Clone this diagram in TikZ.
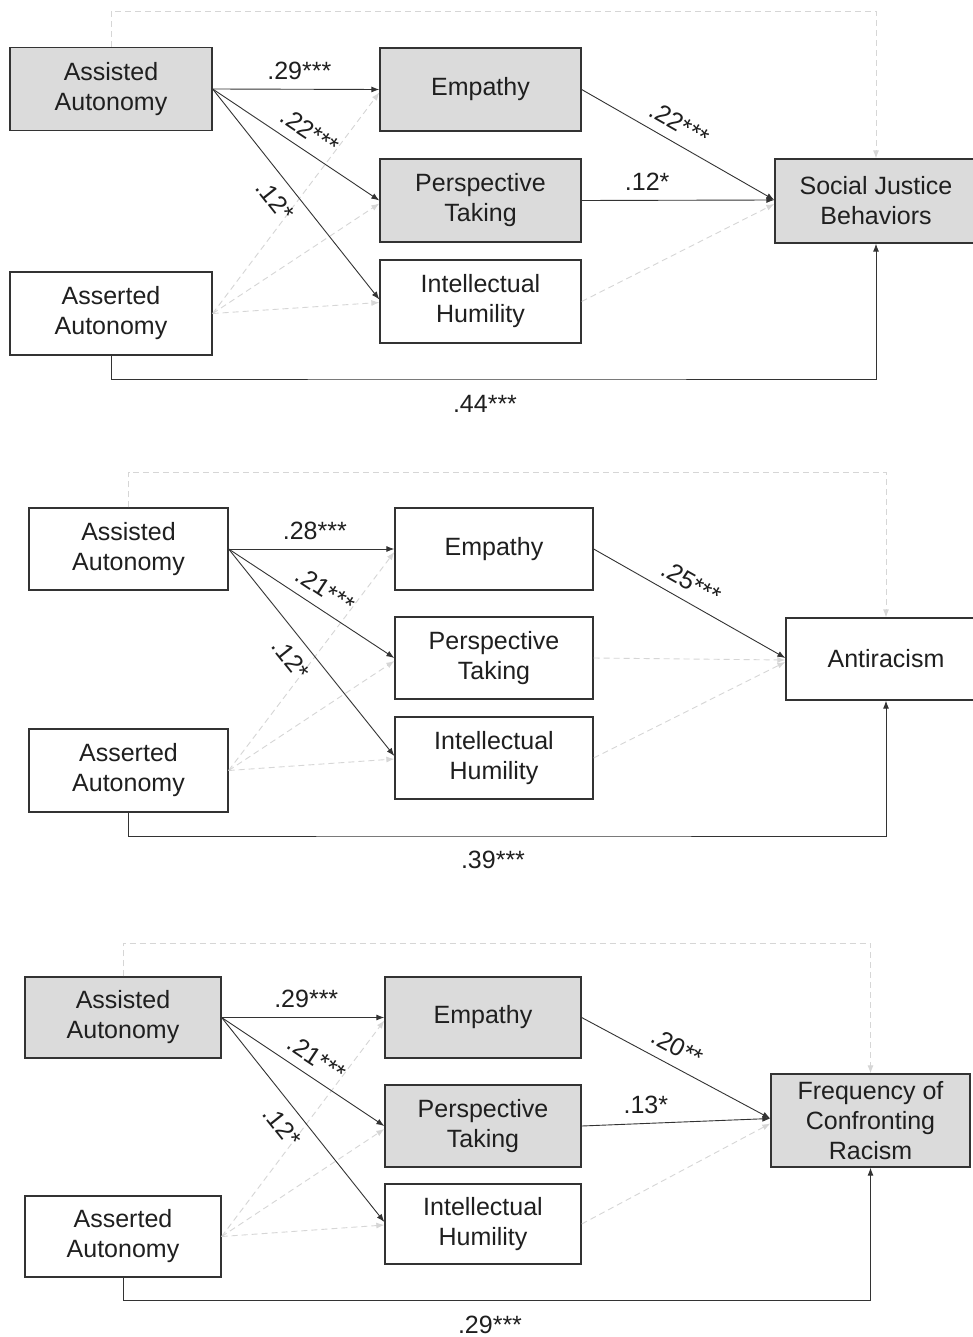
\documentclass[tikz,border=0pt]{standalone}
\usepackage{fontspec}
\setmainfont{Liberation Sans}
\usetikzlibrary{arrows.meta}
\newcommand\figfs{\fontsize{25pt}{30pt}\selectfont}
\begin{document}
\begin{tikzpicture}[x=1pt,y=-1pt,
  box/.style={draw=black!80, line width=1.3pt, inner sep=0pt, align=center, text=black!88, font=\figfs},
  gbox/.style={box, fill=black!14},
  sig/.style={draw=black!80, line width=0.9pt, -{Latex[length=8pt,width=6pt]}},
  ns/.style={draw=black!16, line width=0.9pt, dash pattern=on 6pt off 4pt, -{Latex[length=8pt,width=6pt]}},
  lab/.style={font=\figfs, text=black!88, inner sep=1pt},
  hlab/.style={lab, above=8pt},
  slab/.style={lab, sloped, above=9pt},
  blab/.style={lab, sloped, below=10pt},
]
\useasboundingbox[fill=white] (0,0) rectangle (972,1337);

% ---------------- Panel 1 ----------------
\node[gbox, minimum width=202pt, minimum height=83pt] (aa1) at (111,89) {Assisted\\Autonomy};
\node[box, minimum width=202pt, minimum height=83pt] (as1) at (111,313.5) {Asserted\\Autonomy};
\node[gbox, minimum width=201pt, minimum height=83pt] (em1) at (480.5,89.5) {Empathy};
\node[gbox, minimum width=201pt, minimum height=83pt] (pt1) at (480.5,200.5) {Perspective\\Taking};
\node[box, minimum width=201pt, minimum height=83pt] (ih1) at (480.5,301.5) {Intellectual\\Humility};
\node[gbox, minimum width=202pt, minimum height=84pt] (sj1) at (876,201) {Social Justice\\Behaviors};
\coordinate (t1) at (500,11);
\coordinate (b1) at (500,379);

\draw[ns] (aa1.north) |- (t1) -| (sj1.north);
\draw[ns] (as1.east) -- ([yshift=-3pt]em1.west);
\draw[ns] (as1.east) -- ([yshift=-3pt]pt1.west);
\draw[ns] (as1.east) -- ([yshift=-1pt]ih1.west);
\draw[ns] (ih1.east) -- ([yshift=-3pt]sj1.west);

\draw[sig] (aa1.east) -- node[hlab, pos=0.52]{.29***} (em1.west);
\draw[sig] (aa1.east) -- node[slab, pos=0.52]{.22***} (pt1.west);
\draw[sig] (aa1.east) -- node[blab, pos=0.47]{.12*} ([yshift=2pt]ih1.west);
\draw[sig] (em1.east) -- node[slab, pos=0.46]{.22***} ([yshift=1pt]sj1.west);
\draw[sig] (pt1.east) -- node[hlab, pos=0.34]{.12*} ([yshift=1pt]sj1.west);
\draw[sig] (as1.south) |- (b1) -| (sj1.south);
\node[lab] (l44) at (485,404) {.44***};

% ---------------- Panel 2 ----------------
\node[box, minimum width=199pt, minimum height=82pt] (aa2) at (128.5,549) {Assisted\\Autonomy};
\node[box, minimum width=199pt, minimum height=83pt] (as2) at (128.5,770.5) {Asserted\\Autonomy};
\node[box, minimum width=198pt, minimum height=82pt] (em2) at (494,549) {Empathy};
\node[box, minimum width=198pt, minimum height=82pt] (pt2) at (494,658) {Perspective\\Taking};
\node[box, minimum width=198pt, minimum height=82pt] (ih2) at (494,758) {Intellectual\\Humility};
\node[box, minimum width=200pt, minimum height=82pt] (ar2) at (886,659) {Antiracism};
\coordinate (t2) at (500,472);
\coordinate (b2) at (500,836);

\draw[ns] (aa2.north) |- (t2) -| (ar2.north);
\draw[ns] (as2.east) -- ([yshift=-3pt]em2.west);
\draw[ns] (as2.east) -- ([yshift=-3pt]pt2.west);
\draw[ns] (as2.east) -- ([yshift=-1pt]ih2.west);
\draw[ns] (pt2.east) -- ([yshift=-1pt]ar2.west);
\draw[ns] (ih2.east) -- ([yshift=-3pt]ar2.west);

\draw[sig] (aa2.east) -- node[hlab, pos=0.52]{.28***} (em2.west);
\draw[sig] (aa2.east) -- node[slab, pos=0.52]{.21***} (pt2.west);
\draw[sig] (aa2.east) -- node[blab, pos=0.47]{.12*} ([yshift=2pt]ih2.west);
\draw[sig] (em2.east) -- node[slab, pos=0.46]{.25***} ([yshift=1pt]ar2.west);
\draw[sig] (as2.south) |- (b2) -| (ar2.south);
\node[lab] (l39) at (493,860) {.39***};

% ---------------- Panel 3 ----------------
\node[gbox, minimum width=196pt, minimum height=81pt] (aa3) at (123,1017.5) {Assisted\\Autonomy};
\node[box, minimum width=196pt, minimum height=81pt] (as3) at (123,1236.5) {Asserted\\Autonomy};
\node[gbox, minimum width=196pt, minimum height=81pt] (em3) at (483,1017.5) {Empathy};
\node[gbox, minimum width=196pt, minimum height=82pt] (pt3) at (483,1126) {Perspective\\Taking};
\node[box, minimum width=196pt, minimum height=80pt] (ih3) at (483,1224) {Intellectual\\Humility};
\node[gbox, minimum width=199pt, minimum height=93pt] (fr3) at (870.5,1120.5) {Frequency of\\Confronting\\Racism};
\coordinate (t3) at (500,943);
\coordinate (b3) at (500,1300);

\draw[ns] (aa3.north) |- (t3) -| (fr3.north);
\draw[ns] (as3.east) -- ([yshift=-3pt]em3.west);
\draw[ns] (as3.east) -- ([yshift=-3pt]pt3.west);
\draw[ns] (as3.east) -- ([yshift=-1pt]ih3.west);
\draw[ns] (ih3.east) -- ([yshift=-3pt]fr3.west);

\draw[sig] (aa3.east) -- node[hlab, pos=0.52]{.29***} (em3.west);
\draw[sig] (aa3.east) -- node[slab, pos=0.52]{.21***} (pt3.west);
\draw[sig] (aa3.east) -- node[blab, pos=0.47]{.12*} ([yshift=2pt]ih3.west);
\draw[sig] (em3.east) -- node[slab, pos=0.46]{.20**} ([yshift=2pt]fr3.west);
\draw[sig] (pt3.east) -- node[hlab, pos=0.34]{.13*} ([yshift=2pt]fr3.west);
\draw[sig] (as3.south) |- (b3) -| (fr3.south);
\node[lab] (l29) at (490,1325) {.29***};
\end{tikzpicture}
\end{document}
